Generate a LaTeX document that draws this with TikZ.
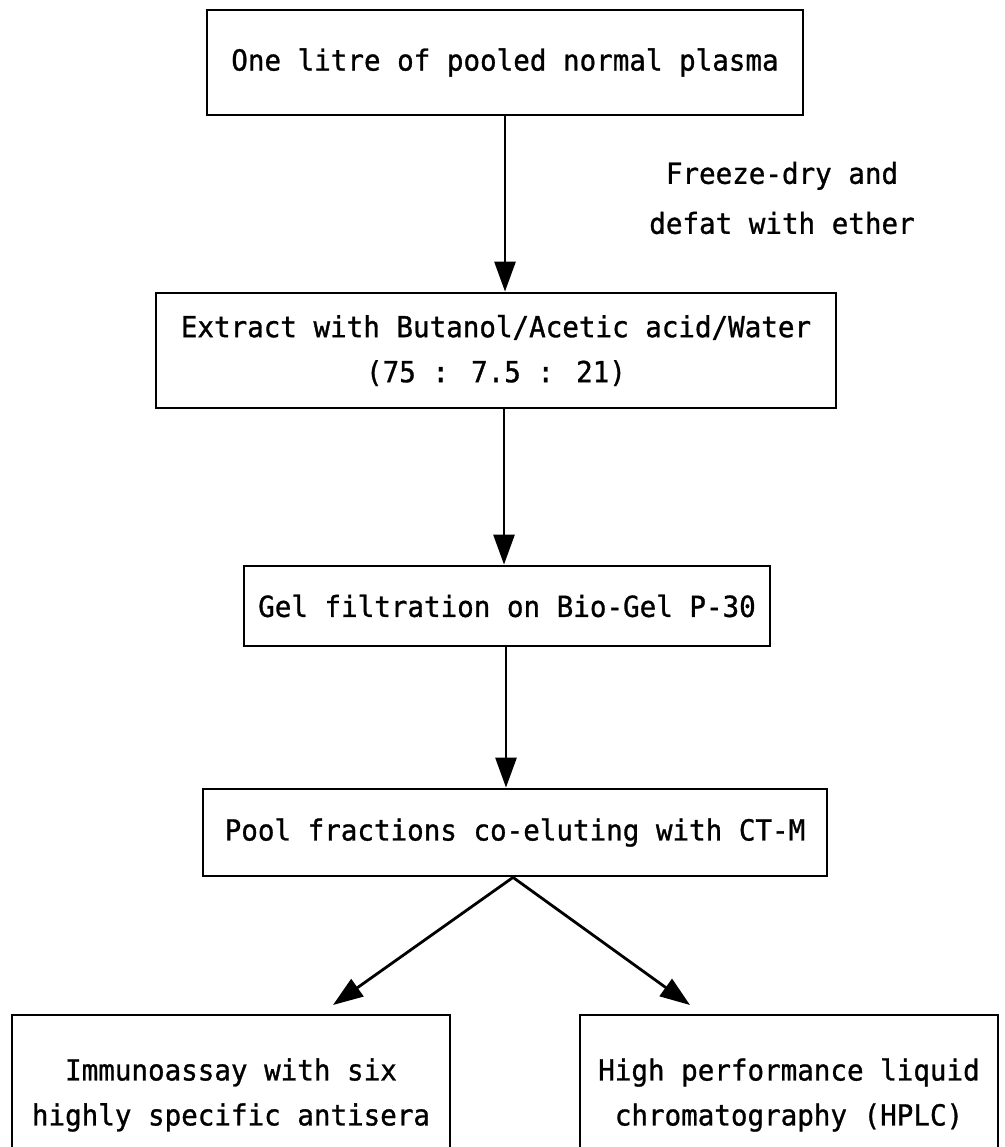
\documentclass[tikz,border=0pt]{standalone}
\usepackage{fontspec}
\newfontfamily\tw[FakeStretch=0.95,FakeBold=1]{DejaVu Sans Mono}
\usetikzlibrary{arrows.meta}
\begin{document}
\begin{tikzpicture}[x=1pt,y=-1pt,
  box/.style={draw,line width=2.8pt,inner sep=0pt,align=center,font=\tw\fontsize{29}{45}\selectfont},
  lbl/.style={inner sep=0pt,align=center,font=\tw\fontsize{29}{50}\selectfont},
  arr/.style={line width=2.8pt,-{Triangle[length=30pt,width=21pt]}}]
\useasboundingbox (0,0) rectangle (1004,1147);
\clip (0,0) rectangle (1004,1147);
\node[box,minimum width=596pt,minimum height=105pt] (b1) at (505,62.5) {One litre of pooled normal plasma};
\node[lbl] (fd) at (782,198) {Freeze-dry and\\defat with ether};
\node[box,minimum width=680pt,minimum height=115pt] (b2) at (496,350.5) {Extract with Butanol/Acetic acid/Water\\(75 : 7.5 : 21)};
\node[box,minimum width=526pt,minimum height=80pt] (b3) at (507,606) {Gel filtration on Bio-Gel P-30};
\node[box,minimum width=624pt,minimum height=87pt] (b4) at (515,832.5) {Pool fractions co-eluting with CT-M};
\node[box,minimum width=438pt,minimum height=160pt] (b5) at (231,1095) {Immunoassay with six\\highly specific antisera};
\node[box,minimum width=418pt,minimum height=160pt] (b6) at (789,1095) {High performance liquid\\chromatography (HPLC)};
\coordinate (t5) at (333,1005);
\coordinate (t6) at (690,1005);
\draw[arr] (b1.south) -- (b1.south |- b2.north);
\draw[arr] ([xshift=8pt]b2.south) -- ([xshift=8pt]b2.south |- b3.north);
\draw[arr] ([xshift=-1pt]b3.south) -- ([xshift=-1pt]b3.south |- b4.north);
\draw[arr] ([xshift=-2pt]b4.south) -- (t5);
\draw[arr] ([xshift=-2pt]b4.south) -- (t6);
\end{tikzpicture}
\end{document}
